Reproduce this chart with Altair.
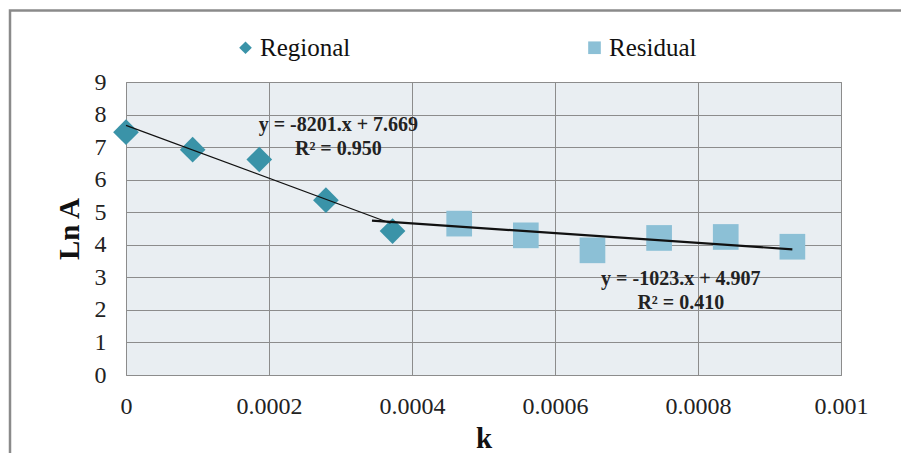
import altair as alt
import pandas as pd

# ---- data ----
k_values = [0.0, 0.0000932, 0.0001864, 0.0002796, 0.0003728,
            0.000466, 0.0005592, 0.0006524, 0.0007456, 0.0008388, 0.000932]
ln_a = [7.46, 6.92, 6.62, 5.37, 4.42, 4.65, 4.29, 3.83, 4.21, 4.24, 3.94]
series = ["Regional"] * 5 + ["Residual"] * 6

reg_line_k = [0.0, 0.00037]
reg_line_y = [7.669, 4.66]
res_line_k = [0.000344, 0.000932]
res_line_y = [4.74, 3.86]

eq_k = [0.000297, 0.000297, 0.000776, 0.000776]
eq_y = [7.48, 6.75, 2.76, 2.03]
eq_text = ["y = -8201.x + 7.669", "R² = 0.950", "y = -1023.x + 4.907", "R² = 0.410"]

x_ticks = [0, 0.0002, 0.0004, 0.0006, 0.0008, 0.001]
y_ticks = [0, 1, 2, 3, 4, 5, 6, 7, 8, 9]

FONT = "Liberation Serif"
GRID = "#8c8c8c"

pts = pd.DataFrame({"k": k_values, "lnA": ln_a, "series": series})
lines = pd.DataFrame({
    "k": reg_line_k + res_line_k,
    "lnA": reg_line_y + res_line_y,
    "fit": ["Regional"] * 2 + ["Residual"] * 2,
})
eqs = pd.DataFrame({"k": eq_k, "lnA": eq_y, "label": eq_text})

xscale = alt.Scale(domain=[0, 0.001], nice=False)
yscale = alt.Scale(domain=[0, 9], nice=False)

x_axis = alt.Axis(values=x_ticks, format=".4~f", title="k", labelFont=FONT,
                  labelFontSize=24, labelColor="#222", labelPadding=19,
                  labelOverlap=False, labelFlush=False,
                  ticks=False, domain=False, grid=True, gridColor=GRID,
                  titleFont=FONT, titleFontSize=29, titleFontWeight="bold",
                  titleColor="#111", titlePadding=6)
y_axis = alt.Axis(values=y_ticks, title="Ln A", labelFont=FONT,
                  labelFontSize=24, labelColor="#222", labelPadding=20,
                  labelOverlap=False, labelFlush=False,
                  ticks=False, domain=False, grid=True, gridColor=GRID,
                  titleFont=FONT, titleFontSize=29, titleFontWeight="bold",
                  titleColor="#111", titlePadding=10)

X = alt.X("k:Q", scale=xscale, axis=x_axis)
Y = alt.Y("lnA:Q", scale=yscale, axis=y_axis)

border = alt.Chart(pd.DataFrame({"a": [0]})).mark_rect(
    fillOpacity=0, stroke="#8a8a8a", strokeWidth=2.5
).encode(x=alt.value(-116), x2=alt.value(900), y=alt.value(-71.5), y2=alt.value(500))

leg = alt.Legend(title=None, orient="none", legendX=107, legendY=-47,
                 direction="horizontal", labelFont=FONT,
                 labelFontSize=25, labelColor="#111",
                 symbolSize=160, labelOffset=2,
                 columnPadding=231, symbolStrokeWidth=0)

points = alt.Chart(pts).mark_point(filled=True, opacity=1, size=660).encode(
    x=X,
    y=Y,
    shape=alt.Shape("series:N", scale=alt.Scale(domain=["Regional", "Residual"],
                                                range=["diamond", "square"]),
                    legend=leg),
    color=alt.Color("series:N", scale=alt.Scale(domain=["Regional", "Residual"],
                                                range=["#3a93a8", "#8cc0d6"]),
                    legend=leg),
)

fit_lines = alt.Chart(lines).mark_line(color="#111").encode(
    x=X,
    y=Y,
    detail="fit:N",
    strokeWidth=alt.StrokeWidth("fit:N", scale=alt.Scale(domain=["Regional", "Residual"],
                                                         range=[1.2, 2.2]), legend=None),
)

texts = alt.Chart(eqs).mark_text(font=FONT, fontSize=20, fontWeight="bold",
                                 color="#222", baseline="alphabetic", align="center").encode(
    x=X,
    y=Y,
    text="label:N",
)

chart = alt.layer(border, points, fit_lines, texts).properties(
    width=715, height=293,
    autosize=alt.AutoSizeParams(type="none"),
    padding={"left": 118, "top": 74, "right": 60, "bottom": 78},
    background="white",
).configure_view(stroke=GRID, strokeWidth=1, fill="#e9eef2")

chart.save("out.html", embed_options={"renderer": "svg", "actions": False})
